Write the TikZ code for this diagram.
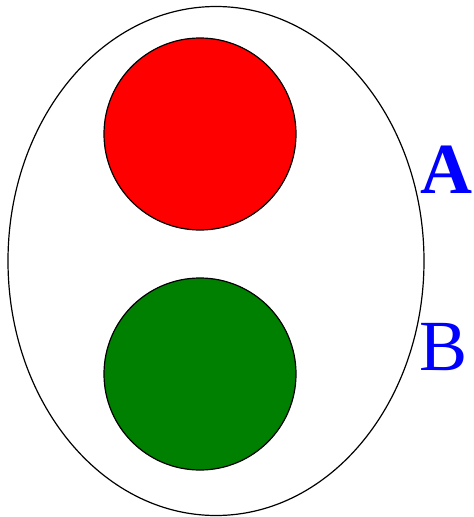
\documentclass[tikz,border=0pt]{standalone}
\usepackage{fontspec}
\setmainfont{Liberation Serif}
\usetikzlibrary{shapes.geometric}
\begin{document}
\begin{tikzpicture}[x=1pt,y=-1pt,
  ring/.style={draw=black,line width=1.2pt},
  lamp/.style={circle,draw=black,line width=1.2pt,minimum size=192pt,inner sep=0pt},
  lbl/.style={text=blue,inner sep=0pt,font=\fontsize{72}{72}\selectfont}]
\useasboundingbox (0,0) rectangle (474,517);
\node[ellipse,ring,minimum width=416pt,minimum height=509pt,inner sep=0pt] (outer) at (216,261) {};
\node[lamp,fill=red] (red) at (200,134) {};
\node[lamp,fill={rgb,255:red,0;green,128;blue,0}] (green) at (200,374) {};
\node[lbl,font=\fontsize{72}{72}\selectfont\bfseries] (A) at (446,170) {A};
\node[lbl] (B) at (444,347) {B};
\end{tikzpicture}
\end{document}
